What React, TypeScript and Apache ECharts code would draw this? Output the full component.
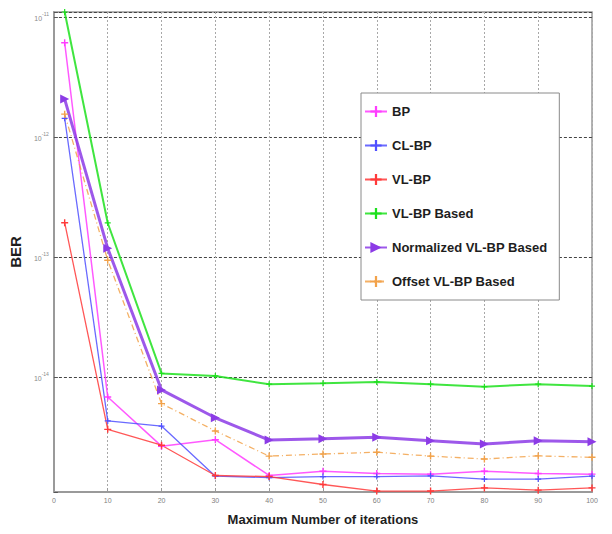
import React, { useEffect, useRef } from "react";
import * as echarts from "echarts";

const xValues = [2, 10, 20, 30, 40, 50, 60, 70, 80, 90, 100];
const xTicks = [0, 10, 20, 30, 40, 50, 60, 70, 80, 90, 100];
const seriesNames = [
  "BP",
  "CL-BP",
  "VL-BP",
  "VL-BP Based",
  "Normalized VL-BP Based",
  "Offset VL-BP Based",
];
const bp = [6.1e-12, 6.8e-15, 2.65e-15, 3.0e-15, 1.51e-15, 1.64e-15, 1.57e-15, 1.55e-15, 1.64e-15, 1.57e-15, 1.55e-15];
const clBp = [1.43e-12, 4.3e-15, 3.9e-15, 1.49e-15, 1.45e-15, 1.48e-15, 1.48e-15, 1.5e-15, 1.41e-15, 1.41e-15, 1.49e-15];
const vlBp = [1.93e-13, 3.66e-15, 2.7e-15, 1.51e-15, 1.48e-15, 1.27e-15, 1.12e-15, 1.12e-15, 1.19e-15, 1.14e-15, 1.19e-15];
const vlBpBased = [1.1e-11, 1.92e-13, 1.07e-14, 1.02e-14, 8.7e-15, 8.85e-15, 9.1e-15, 8.7e-15, 8.3e-15, 8.7e-15, 8.4e-15];
const normalizedVlBp = [2.07e-12, 1.18e-13, 7.8e-15, 4.57e-15, 2.98e-15, 3.05e-15, 3.14e-15, 2.94e-15, 2.76e-15, 2.94e-15, 2.88e-15];
const offsetVlBp = [1.55e-12, 9.4e-14, 6.0e-15, 3.55e-15, 2.19e-15, 2.28e-15, 2.36e-15, 2.19e-15, 2.07e-15, 2.2e-15, 2.14e-15];

const PLUS = "path://M4,0H6V4H10V6H6V10H4V6H0V4H4Z";
const TRI = "path://M0,0L10,5L0,10Z";

const SANS = "'Liberation Sans', Arial, sans-serif";

function pair(ys: number[]) {
  return xValues.map((x, i) => [x, ys[i]]);
}

export default function App() {
  const ref = useRef<HTMLDivElement>(null);
  useEffect(() => {
    if (!ref.current) return;
    const chart = echarts.init(ref.current, undefined, { renderer: "svg" });
    const mk = (
      name: string,
      ys: number[],
      color: string,
      width: number,
      symbol: string,
      size: number,
      type: any = "solid"
    ) => ({
      name,
      type: "line",
      data: pair(ys),
      symbol,
      symbolSize: size,
      showSymbol: true,
      itemStyle: { color },
      lineStyle: { color, width, type, opacity: 0.85 },
    });
    chart.setOption({
      animation: false,
      backgroundColor: "#ffffff",
      grid: {
        left: 50,
        right: 20,
        top: 12,
        bottom: 42,
        show: true,
        borderColor: "#9a9a9a",
        borderWidth: 1.5,
      },
      legend: {
        orient: "vertical",
        left: 361,
        top: 93,
        padding: [12, 12, 12, 3],
        itemGap: 21,
        itemWidth: 22,
        itemHeight: 14,
        backgroundColor: "#ffffff",
        borderColor: "#8a8a8a",
        borderWidth: 1,
        data: seriesNames,
        textStyle: {
          fontFamily: SANS,
          fontWeight: "bold",
          fontSize: 13,
          color: "#1e1e1e",
        },
      },
      xAxis: {
        type: "value",
        min: xTicks[0],
        max: xTicks[xTicks.length - 1],
        interval: 10,
        name: "Maximum Number of iterations",
        nameLocation: "middle",
        nameGap: 21,
        nameTextStyle: {
          fontFamily: SANS,
          fontWeight: "bold",
          fontSize: 13,
          color: "#1e1e1e",
        },
        axisLine: { lineStyle: { color: "#9a9a9a", width: 2 } },
        axisTick: { inside: true, length: 4, lineStyle: { color: "#9a9a9a" } },
        axisLabel: {
          fontSize: 7,
          color: "#808080",
          margin: 5,
          fontFamily: SANS,
        },
        splitLine: {
          show: true,
          lineStyle: { color: "#a8a8a8", type: [2, 2], width: 1 },
        },
      },
      yAxis: {
        type: "log",
        min: 1.1e-15,
        max: 1.1e-11,
        name: "BER",
        nameLocation: "middle",
        nameGap: 26,
        nameRotate: 90,
        nameTextStyle: {
          fontFamily: SANS,
          fontWeight: "bold",
          fontSize: 15,
          color: "#1e1e1e",
        },
        axisLine: { lineStyle: { color: "#9a9a9a", width: 2 } },
        axisTick: { inside: true, length: 4, lineStyle: { color: "#555" } },
        minorTick: { show: false },
        axisLabel: {
          margin: 5,
          color: "#8a8a8a",
          formatter: (v: number) => {
            const l = Math.log10(v);
            const e = Math.round(l);
            if (Math.abs(l - e) > 1e-6) return "";
            return `{b|10}{s|${e}}`;
          },
          rich: {
            b: { fontSize: 7, color: "#8a8a8a", verticalAlign: "bottom", lineHeight: 10, fontFamily: SANS },
            s: { fontSize: 5, color: "#8a8a8a", verticalAlign: "top", lineHeight: 10, fontFamily: SANS },
          },
        },
        splitLine: {
          show: true,
          lineStyle: { color: "#444", type: [3, 2], width: 1 },
        },
      },
      series: [
        mk(seriesNames[0], bp, "#ff3cff", 1.5, PLUS, 7),
        mk(seriesNames[1], clBp, "#5050ff", 1.3, PLUS, 6),
        mk(seriesNames[2], vlBp, "#ff3a3a", 1.3, PLUS, 7),
        mk(seriesNames[3], vlBpBased, "#1ee01e", 2, PLUS, 6),
        mk(seriesNames[4], normalizedVlBp, "#8c3be6", 3, TRI, 9),
        mk(seriesNames[5], offsetVlBp, "#f2a24a", 1.3, PLUS, 7, [6, 3, 1, 3]),
      ],
    });
    return () => chart.dispose();
  }, []);
  return (
    <div
      ref={ref}
      style={{ position: "fixed", left: 0, top: 0, width: 612, height: 534 }}
    />
  );
}
